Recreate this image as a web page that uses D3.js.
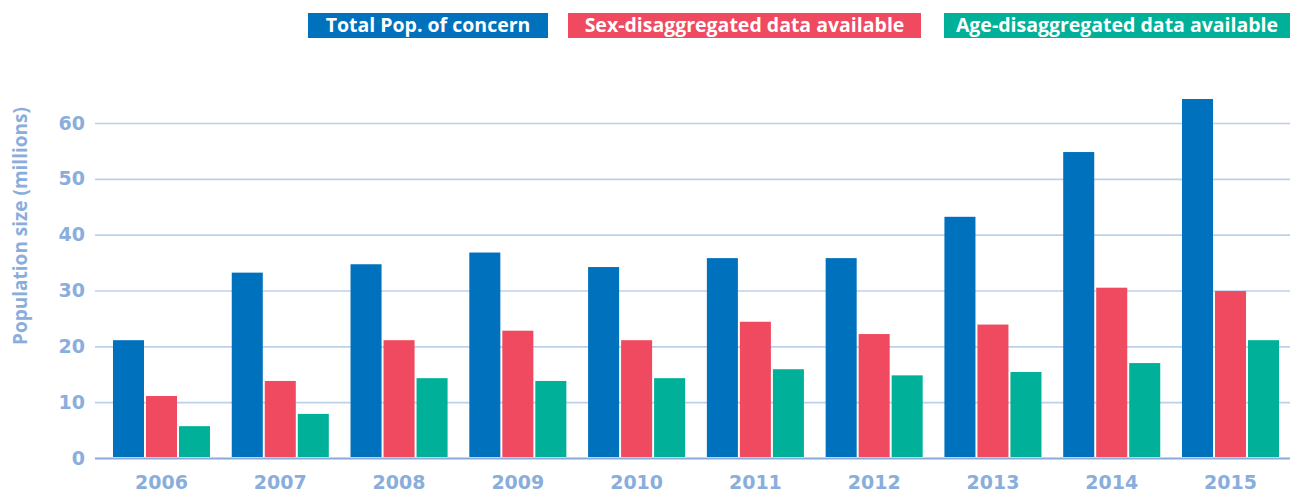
<!DOCTYPE html>
<html>
<head>
<meta charset="utf-8">
<script src="https://cdn.jsdelivr.net/npm/d3@7"></script>
<style>
  body { margin: 0; background: #fff; }
  svg { display: block; }
  .axis text { font-family: "DejaVu Sans", sans-serif; font-weight: 700; font-size: 19px; fill: #8aaedc; }
  .legend text { font-family: "Open Sans", sans-serif; font-weight: 700; font-size: 19.5px; fill: #fff; }
</style>
</head>
<body>
<svg id="chart" width="1290" height="492"></svg>
<script>
// chart data
const years = ['2006', '2007', '2008', '2009', '2010', '2011', '2012', '2013', '2014', '2015'];
const seriesNames = ['Total Pop. of concern', 'Sex-disaggregated data available', 'Age-disaggregated data available'];
const totalPop = [21.1, 33.2, 34.7, 36.8, 34.2, 35.8, 35.8, 43.2, 54.8, 64.3];
const sexData = [11.1, 13.8, 21.1, 22.8, 21.1, 24.4, 22.2, 23.9, 30.5, 29.9];
const ageData = [5.7, 7.9, 14.3, 13.8, 14.3, 15.9, 14.8, 15.4, 17.0, 21.1];
const yTicks = [0, 10, 20, 30, 40, 50, 60];
const yTitle = 'Population size (millions)';

const colors = ['#0071bc', '#ef4a60', '#00b098'];

const WIDTH = 1290;
const margin = { top: 123, right: 1, bottom: 34, left: 95 };
const baseline = 492 - margin.bottom;

const svg = d3.select('#chart');

const x = d3.scaleBand()
  .domain(years)
  .range([103, WIDTH - margin.right])
  .paddingInner(0.183)
  .paddingOuter(0.084);

const xInner = d3.scaleBand()
  .domain(seriesNames)
  .range([0, x.bandwidth()])
  .paddingInner(0.06);

const y = d3.scaleLinear()
  .domain([0, 60])
  .range([baseline, margin.top]);

// gridlines + y labels
const yAxis = d3.axisLeft(y)
  .tickValues(yTicks)
  .tickSize(-(WIDTH - margin.left))
  .tickPadding(10);

const gy = svg.append('g')
  .attr('class', 'axis y')
  .attr('transform', `translate(${margin.left},0)`)
  .call(yAxis);
gy.select('.domain').remove();
gy.selectAll('.tick line')
  .attr('stroke', '#bdd0ea')
  .attr('stroke-width', 1.6);
gy.selectAll('.tick')
  .filter(d => d === 0)
  .select('line')
  .attr('stroke', '#8caad8')
  .attr('stroke-width', 2);

// bars
const rows = years.map((yr, i) => ({ year: yr, values: [totalPop[i], sexData[i], ageData[i]] }));

const groups = svg.append('g')
  .selectAll('g')
  .data(rows)
  .join('g')
  .attr('transform', d => `translate(${x(d.year)},0)`);

groups.selectAll('rect')
  .data(d => d.values.map((v, k) => ({ key: seriesNames[k], value: v, k })))
  .join('rect')
  .attr('x', d => xInner(d.key))
  .attr('width', xInner.bandwidth())
  .attr('y', d => y(d.value))
  .attr('height', d => y(0) - y(d.value) - 1)
  .attr('fill', d => colors[d.k]);

// x labels
const gx = svg.append('g')
  .attr('class', 'axis x')
  .attr('transform', `translate(0,${baseline})`)
  .call(d3.axisBottom(x).tickSize(0).tickPadding(18));
gx.select('.domain').remove();

// y title
svg.append('text')
  .attr('transform', `translate(27,226) rotate(-90)`)
  .attr('text-anchor', 'middle')
  .attr('font-family', '"Open Sans", sans-serif')
  .attr('font-weight', 700)
  .attr('font-size', 19)
  .attr('fill', '#8aaedc')
  .text(yTitle);

// legend
const legendBoxes = [
  { x: 308, w: 240 },
  { x: 568, w: 353 },
  { x: 944, w: 346 }
];

const legend = svg.append('g')
  .attr('class', 'legend')
  .selectAll('g')
  .data(seriesNames)
  .join('g')
  .attr('transform', (d, i) => `translate(${legendBoxes[i].x},13)`);

legend.append('rect')
  .attr('width', (d, i) => legendBoxes[i].w)
  .attr('height', 25)
  .attr('fill', (d, i) => colors[i]);

legend.append('text')
  .attr('x', (d, i) => legendBoxes[i].w / 2)
  .attr('y', 19)
  .attr('text-anchor', 'middle')
  .text(d => d);
</script>
</body>
</html>
